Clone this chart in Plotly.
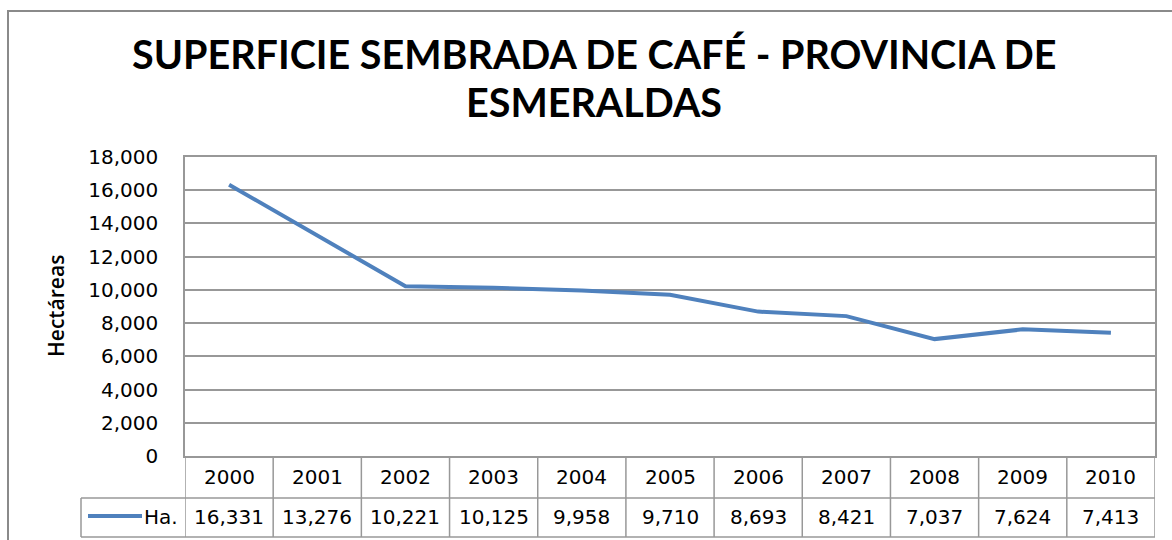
import plotly.graph_objects as go

# Superficie sembrada de café, provincia de Esmeraldas (hectáreas)
years = ["2000", "2001", "2002", "2003", "2004", "2005",
         "2006", "2007", "2008", "2009", "2010"]
hectares = [16331, 13276, 10221, 10125, 9958, 9710,
            8693, 8421, 7037, 7624, 7413]
series_name = "Ha."
y_ticks = [0, 2000, 4000, 6000, 8000, 10000, 12000, 14000, 16000, 18000]

W, H = 1172, 540
L, R, T, B = 185, 17, 157, 84          # plot area margins (px)
PW, PH = W - L - R, H - T - B          # plot area size

LINE_COLOR = "#4F81BD"
GRID = "#989898"
TXT = "#000000"
FONT = "DejaVu Sans"
FS = 20


def py(ypix):
    """pixel row -> paper y"""
    return (H - B - ypix) / PH


def px(xpix):
    """pixel column -> paper x"""
    return (xpix - L) / PW


n = len(years)
xs = list(range(n))

fig = go.Figure()
fig.add_trace(go.Scatter(
    x=xs, y=hectares, mode="lines", name=series_name,
    line=dict(color=LINE_COLOR, width=4),
    showlegend=False, hoverinfo="x+y",
))

shapes = []
annotations = []

# outer chart frame
shapes.append(dict(type="rect", xref="paper", yref="paper",
                   x0=px(8), x1=px(1190), y0=py(11), y1=py(560),
                   line=dict(color="#8A8A8A", width=2), layer="below"))

# data table under the axis
row1_bottom = py(498)
row2_bottom = py(537)
for i in range(n + 1):
    shapes.append(dict(type="line", xref="x", yref="paper",
                       x0=i - 0.5, x1=i - 0.5, y0=0, y1=row2_bottom,
                       line=dict(color=GRID, width=1.5)))
for yb in (row1_bottom, row2_bottom):
    shapes.append(dict(type="line", xref="paper", yref="paper",
                       x0=px(81), x1=1, y0=yb, y1=yb,
                       line=dict(color=GRID, width=1.5)))
shapes.append(dict(type="line", xref="paper", yref="paper",
                   x0=px(81), x1=px(81), y0=row1_bottom, y1=row2_bottom,
                   line=dict(color=GRID, width=1.5)))
# legend key in the table
shapes.append(dict(type="line", xref="paper", yref="paper",
                   x0=px(88), x1=px(142), y0=py(516), y1=py(516),
                   line=dict(color=LINE_COLOR, width=4)))
annotations.append(dict(xref="paper", yref="paper", x=px(142), y=py(517),
                        text=series_name, showarrow=False,
                        xanchor="left", yanchor="middle",
                        font=dict(family=FONT, size=FS, color=TXT)))

for i, (yr, v) in enumerate(zip(years, hectares)):
    annotations.append(dict(xref="x", yref="paper", x=i, y=py(477),
                            text=yr, showarrow=False, yanchor="middle",
                            font=dict(family=FONT, size=FS, color=TXT)))
    annotations.append(dict(xref="x", yref="paper", x=i, y=py(517),
                            text=f"{v:,}", showarrow=False, yanchor="middle",
                            font=dict(family=FONT, size=FS, color=TXT)))

# title
TITLE_FONT = dict(family="Lato", size=39.5, color=TXT, weight="bold")
annotations.append(dict(xref="paper", yref="paper", x=px(594), y=py(53),
                        text="SUPERFICIE SEMBRADA DE CAFÉ - PROVINCIA DE",
                        showarrow=False, yanchor="middle", font=TITLE_FONT))
annotations.append(dict(xref="paper", yref="paper", x=px(594), y=py(102),
                        text="ESMERALDAS",
                        showarrow=False, yanchor="middle", font=TITLE_FONT))
# y-axis title
annotations.append(dict(xref="paper", yref="paper", x=px(56), y=py(306),
                        text="Hectáreas", textangle=-90, showarrow=False,
                        xanchor="center", yanchor="middle",
                        font=dict(family="Open Sans", size=21, color=TXT,
                                  weight=600)))

fig.update_layout(
    width=W, height=H,
    margin=dict(l=L, r=R, t=T, b=B, pad=0),
    paper_bgcolor="white", plot_bgcolor="white",
    shapes=shapes, annotations=annotations,
    xaxis=dict(range=[-0.5, n - 0.5], showticklabels=False, ticks="",
               showgrid=False, zeroline=False, showline=True,
               linecolor=GRID, linewidth=1.5, mirror=True, fixedrange=True),
    yaxis=dict(range=[0, 18000], tickvals=y_ticks,
               ticktext=[f"{t:,}" for t in y_ticks],
               ticks="outside", ticklen=21, tickcolor="rgba(0,0,0,0)",
               tickfont=dict(family=FONT, size=FS, color=TXT),
               showgrid=True, gridcolor=GRID, gridwidth=1.5,
               zeroline=False, showline=True, linecolor=GRID, linewidth=1.5,
               mirror=True, fixedrange=True),
)

fig.write_html("out.html")
